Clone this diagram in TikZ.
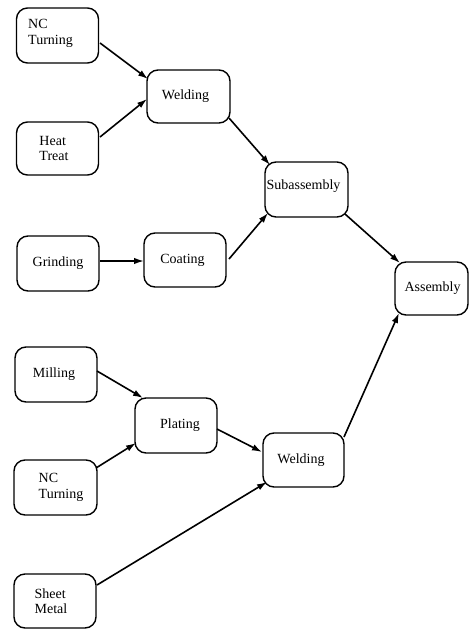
\documentclass[tikz,border=0pt]{standalone}
\usepackage{fontspec}
\setmainfont{Liberation Serif}
\usetikzlibrary{calc,arrows.meta}
\tikzset{
  box/.style={draw, line width=1.4pt, rounded corners=11pt, minimum width=82pt, minimum height=55pt,
    inner sep=0pt},
  tx/.style={inner sep=0pt, align=left, font=\fontsize{14}{15.5}\selectfont},
  arr/.style={line width=1.6pt, -{Latex[length=10pt,width=6.5pt]}}
}
\begin{document}
\begin{tikzpicture}[x=1pt,y=-1pt]
\useasboundingbox (0,0) rectangle (469,629);
\node[box, label={[tx,xshift=-7pt,yshift=2pt]center:{NC\\Turning}}] (nc1) at (57.5,35.5) {};
\node[box, minimum width=83pt, minimum height=53pt, label={[tx,xshift=-3pt]center:Welding}] (weld1) at (188.5,96.5) {};
\node[box, minimum height=53pt, label={[tx,xshift=-3.5pt]center:{Heat\\Treat}}] (heat) at (57.5,148.5) {};
\node[box, minimum width=83pt, label={[tx,xshift=-3pt,yshift=3pt]center:Subassembly}] (sub) at (306.5,189.5) {};
\node[box, label={[tx]center:Grinding}] (grind) at (58,263.5) {};
\node[box, minimum height=54pt, label={[tx,xshift=-2.5pt]center:Coating}] (coat) at (185,260) {};
\node[box, minimum width=73pt, minimum height=53pt, label={[tx,xshift=1pt]center:Assembly}] (asm) at (431.5,288.5) {};
\node[box, label={[tx,xshift=-2pt]center:Milling}] (mill) at (56,374.5) {};
\node[box, label={[tx,xshift=4pt]center:Plating}] (plate) at (176,425.5) {};
\node[box, minimum width=81pt, minimum height=54pt, label={[tx,xshift=-2.5pt]center:Welding}] (weld2) at (303.5,460) {};
\node[box, minimum width=83pt, label={[tx,xshift=5.5pt]center:{NC\\Turning}}] (nc2) at (55.5,487.5) {};
\node[box, minimum height=54pt, label={[tx,xshift=-4pt]center:{Sheet\\Metal}}] (sheet) at (55,601) {};
\draw[arr] ($(nc1)+(42.5,7.5)$) -- ($(weld1)+(-40.5,-17.5)$);
\draw[arr] ($(heat)+(42.5,-11.5)$) -- ($(weld1)+(-41.5,2.5)$);
\draw[arr] ($(weld1)+(40.5,21.5)$) -- ($(sub)+(-36.5,-24.5)$);
\draw[arr] ($(grind)+(42,-2.5)$) -- ($(coat)+(-41,1)$);
\draw[arr] ($(coat)+(44,-1)$) -- ($(sub)+(-38.5,23.5)$);
\draw[arr] ($(sub)+(38.5,24.5)$) -- ($(asm)+(-31.5,-25.5)$);
\draw[arr] ($(mill)+(41,-3.5)$) -- ($(plate)+(-33,-27.5)$);
\draw[arr] ($(nc2)+(40.5,-19.5)$) -- ($(plate)+(-40,17.5)$);
\draw[arr] ($(plate)+(41,3.5)$) -- ($(weld2)+(-41.5,-8)$);
\draw[arr] ($(sheet)+(42,-16)$) -- ($(weld2)+(-36.5,22)$);
\draw[arr] ($(weld2)+(40.5,-23)$) -- ($(asm)+(-32.5,24.5)$);
\end{tikzpicture}
\end{document}
